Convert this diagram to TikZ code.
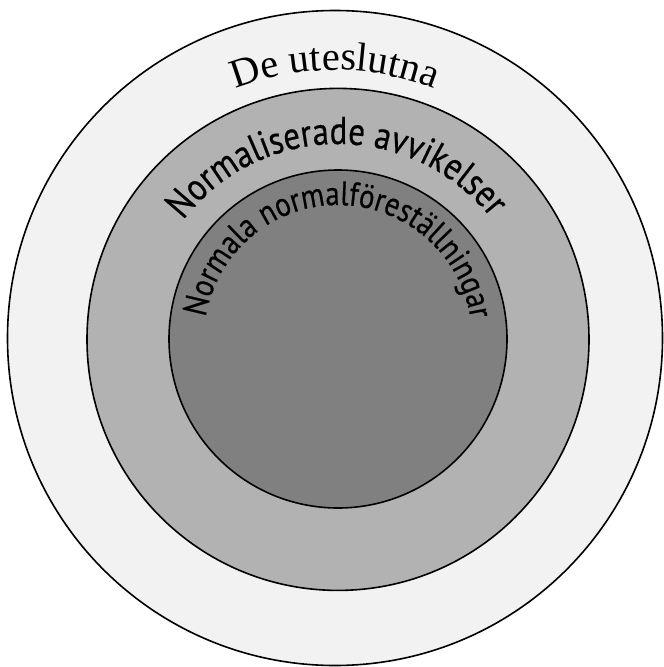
\documentclass[tikz,border=0pt]{standalone}
\usepackage{fontspec}
\setmainfont{Liberation Serif}
\newfontfamily\labsans[FakeStretch=0.85,FakeBold=0.5]{PT Sans}
\usetikzlibrary{decorations.text}
\definecolor{ringout}{gray}{0.95}
\definecolor{ringmid}{gray}{0.70}
\definecolor{ringin}{gray}{0.50}
\newlength\measw
\begin{document}
% font sizes fitted to the arcs
\settowidth\measw{\rmfamily\fontsize{10pt}{12pt}\selectfont De uteslutna}%
\pgfmathsetmacro\fsA{10*203/\measw}%
\settowidth\measw{\labsans\fontsize{10pt}{12pt}\selectfont Normaliserade avvikelser}%
\pgfmathsetmacro\fsB{10*354/\measw}%
\settowidth\measw{\labsans\fontsize{10pt}{12pt}\selectfont Normala normalföreställningar}%
\pgfmathsetmacro\fsC{10*379/\measw}%
\begin{tikzpicture}[x=1pt,y=1pt,
  ring/.style={circle, draw=black, line width=1.6pt, inner sep=0pt, outer sep=0pt},
  curvetext/.style={decorate, decoration={text along path, text align=center, text={#1}}}]
\useasboundingbox (0,0) rectangle (664,-667);
% rings
\node[ring, fill=ringout, minimum size=655pt] (outer) at (335,-338) {};
\node[ring, fill=ringmid, minimum size=502pt] (middle) at (338,-339.4) {};
\node[ring, fill=ringin, minimum size=338pt] (inner) at (338,-339) {};
% curved labels
\path[curvetext={|\rmfamily\fontsize{\fsA pt}{\fsA pt}\selectfont|De uteslutna}]
  (outer.center) ++(130:268) arc[start angle=130, end angle=50, radius=268];
\path[curvetext={|\labsans\fontsize{\fsB pt}{\fsB pt}\selectfont|Normaliserade avvikelser}]
  (inner.center) ++(170.5:195) arc[start angle=170.5, end angle=10.5, radius=195];
\path[curvetext={|\labsans\fontsize{\fsC pt}{\fsC pt}\selectfont|Normala normalföreställningar}]
  (inner.center) ++(189.6:134) arc[start angle=189.6, end angle=-10.4, radius=134];
\end{tikzpicture}
\end{document}
